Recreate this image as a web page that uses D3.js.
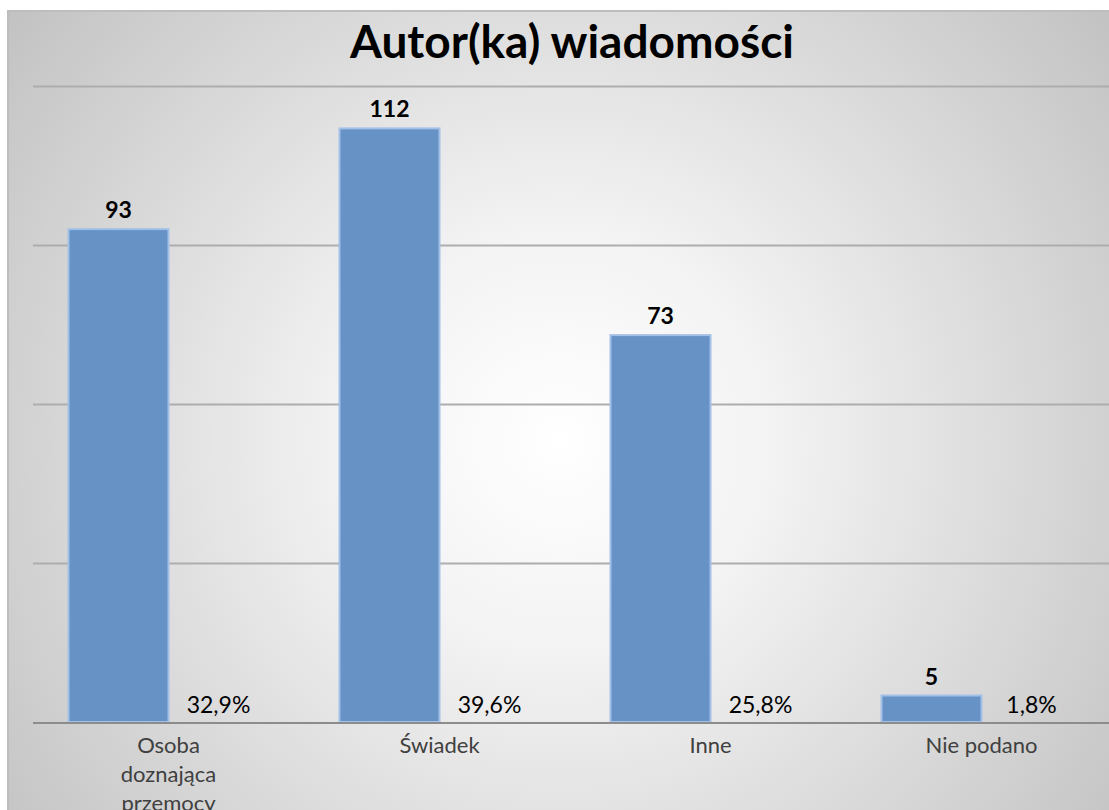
<!DOCTYPE html>
<html>
<head>
<meta charset="utf-8">
<script src="https://cdn.jsdelivr.net/npm/d3@7"></script>
<style>
  html, body { margin: 0; padding: 0; background: #fff; }
  svg { display: block; font-family: Lato, "Noto Sans", sans-serif; }
</style>
</head>
<body>
<svg id="chart"></svg>
<script>
// Data
var categories = ["Osoba doznająca przemocy", "Świadek", "Inne", "Nie podano"];
var counts = [93, 112, 73, 5];
var percents = ["32,9%", "39,6%", "25,8%", "1,8%"];
var yTicks = [0, 30, 60, 90, 120];
var titleText = "Autor(ka) wiadomości";

var W = 1109, H = 810;
var margin = {top: 86, right: -8, bottom: 88, left: 33};
var width = W - margin.left - margin.right,
    height = H - margin.top - margin.bottom;

var svg = d3.select("#chart").attr("width", W).attr("height", H);

// background gradient
var defs = svg.append("defs");
var grad = defs.append("radialGradient")
    .attr("id", "bg")
    .attr("gradientUnits", "userSpaceOnUse")
    .attr("cx", 560).attr("cy", 440).attr("r", 700);
grad.append("stop").attr("offset", "0%").attr("stop-color", "#ffffff");
grad.append("stop").attr("offset", "30%").attr("stop-color", "#f3f3f3");
grad.append("stop").attr("offset", "100%").attr("stop-color", "#c2c2c2");

svg.append("rect")
    .attr("x", 8).attr("y", 11)
    .attr("width", W).attr("height", H)
    .attr("fill", "url(#bg)")
    .attr("stroke", "#bdbdbd")
    .attr("stroke-width", 2);

svg.append("text")
    .attr("x", 572).attr("y", 58)
    .attr("text-anchor", "middle")
    .attr("font-size", 46)
    .attr("font-weight", "bold")
    .attr("fill", "#000")
    .text(titleText);

var g = svg.append("g")
    .attr("transform", "translate(" + margin.left + "," + margin.top + ")");

var x0 = d3.scaleBand().domain(categories).range([0, 1084]).padding(0);
var x1 = d3.scaleBand().domain(["count", "pct"]).range([0, x0.bandwidth()])
    .paddingInner(0).paddingOuter(0.355);
var y = d3.scaleLinear().domain([0, 120]).range([height, 0]);

// gridlines
g.selectAll(".grid")
    .data(yTicks.filter(function(d) { return d > 0; }))
    .join("line")
    .attr("x1", 0).attr("x2", 1090)
    .attr("y1", function(d) { return y(d) + 0.5; })
    .attr("y2", function(d) { return y(d) + 0.5; })
    .attr("stroke", "#adadad")
    .attr("stroke-width", 2);

// bars
g.selectAll(".bar")
    .data(counts)
    .join("rect")
    .attr("x", function(d, i) { return x0(categories[i]) + x1("count"); })
    .attr("y", function(d) { return y(d); })
    .attr("width", x1.bandwidth())
    .attr("height", function(d) { return height - y(d); })
    .attr("fill", "#6692c6")
    .attr("stroke", "#a3c0e6")
    .attr("stroke-width", 2);

// axis line
g.append("line")
    .attr("x1", 0).attr("x2", 1090)
    .attr("y1", height + 1).attr("y2", height + 1)
    .attr("stroke", "#8c8c8c")
    .attr("stroke-width", 2);

// value labels
g.selectAll(".val")
    .data(counts)
    .join("text")
    .attr("x", function(d, i) { return x0(categories[i]) + x1("count") + x1.bandwidth() / 2; })
    .attr("y", function(d) { return y(d) - 11; })
    .attr("text-anchor", "middle")
    .attr("font-size", 23)
    .attr("font-weight", "bold")
    .attr("fill", "#000")
    .text(function(d) { return d; });

// percentage labels
g.selectAll(".pct")
    .data(percents)
    .join("text")
    .attr("x", function(d, i) { return x0(categories[i]) + x1("pct") + x1.bandwidth() / 2; })
    .attr("y", height - 9)
    .attr("text-anchor", "middle")
    .attr("font-size", 23)
    .attr("fill", "#000")
    .text(function(d) { return d; });

// category labels (wrapped)
var wraps = {"Osoba doznająca przemocy": ["Osoba", "doznająca", "przemocy"]};
g.selectAll(".cat")
    .data(categories)
    .join("text")
    .attr("text-anchor", "middle")
    .attr("font-size", 22)
    .attr("fill", "#404040")
    .each(function(d) {
        var lines = wraps[d] || [d];
        var t = d3.select(this);
        lines.forEach(function(l, k) {
            t.append("tspan")
                .attr("x", x0(d) + x0.bandwidth() / 2)
                .attr("y", height + 31 + k * 29)
                .text(l);
        });
    });
</script>
</body>
</html>
